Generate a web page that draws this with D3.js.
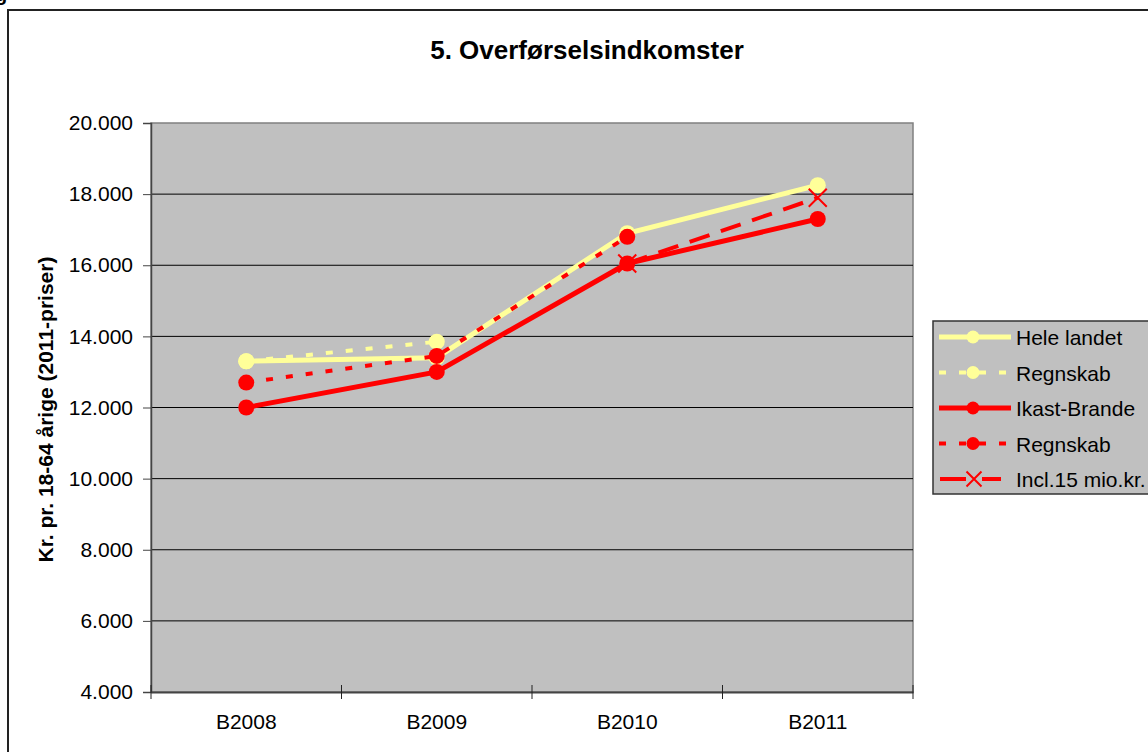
<!DOCTYPE html>
<html lang="da">
  <head>
    <meta charset="UTF-8" />
    <title>5. Overførselsindkomster</title>
    <script src="https://d3js.org/d3.v7.min.js"></script>
    <style>
      body {
        margin: 0;
        background: #fff;
        font-family: Arial, "Liberation Sans", sans-serif;
      }
      svg text {
        fill: #000;
      }
    </style>
  </head>
  <body>
    <svg width="1148" height="752"></svg>

    <script>
      // Data
      const categories = ["B2008", "B2009", "B2010", "B2011"];
      const heleLandet = [13300, 13400, 16900, 18250];
      const regnskabLand = [13300, 13850, null, null];
      const ikastBrande = [12000, 13000, 16050, 17300];
      const regnskabIkast = [12700, 13450, 16800, null];
      const incl15 = [null, null, 16050, 17900];
      const yTicks = [4000, 6000, 8000, 10000, 12000, 14000, 16000, 18000, 20000];

      const series = [
        { name: "Hele landet", values: heleLandet, color: "#ffff99", width: 5, dash: null, marker: "dot" },
        { name: "Regnskab", values: regnskabLand, color: "#ffff99", width: 4, dash: "7,13", marker: "dot" },
        { name: "Ikast-Brande", values: ikastBrande, color: "#ff0000", width: 5, dash: null, marker: "dot" },
        { name: "Regnskab", values: regnskabIkast, color: "#ff0000", width: 4, dash: "7,13", marker: "dot" },
        { name: "Incl.15 mio.kr.", values: incl15, color: "#ff0000", width: 4, dash: "21,12", marker: "x" },
      ];

      const svg = d3.select("svg");
      const plot = { left: 151, right: 913, top: 123, bottom: 692 };

      // Ydre ramme
      svg.append("rect")
        .attr("x", 8).attr("y", 10)
        .attr("width", 1160).attr("height", 760)
        .attr("fill", "#fff")
        .attr("stroke", "#222").attr("stroke-width", 2);

      // Afskåret tekst over rammen
      svg.append("text")
        .attr("x", -5).attr("y", 1)
        .attr("font-size", 20).attr("font-weight", "bold")
        .text("g");

      const x = d3.scaleBand().domain(categories).range([plot.left, plot.right]);
      const y = d3.scaleLinear().domain([4000, 20000]).range([plot.bottom, plot.top]);

      // Plotområde
      svg.append("rect")
        .attr("x", plot.left).attr("y", plot.top)
        .attr("width", plot.right - plot.left).attr("height", plot.bottom - plot.top)
        .attr("fill", "#c0c0c0")
        .attr("stroke", "#808080").attr("stroke-width", 1.5);

      // Gitterlinjer
      svg.append("g")
        .selectAll("line")
        .data(yTicks.slice(1, -1))
        .join("line")
        .attr("x1", plot.left).attr("x2", plot.right)
        .attr("y1", (d) => y(d)).attr("y2", (d) => y(d))
        .attr("stroke", "#000").attr("stroke-width", 1);

      // Y-akse
      const fmt = (d) => d3.format(",")(d).replace(/,/g, ".");
      const yAxis = svg.append("g")
        .attr("transform", `translate(${plot.left},0)`)
        .call(d3.axisLeft(y).tickValues(yTicks).tickFormat(fmt).tickSize(8).tickPadding(10));
      yAxis.select(".domain").attr("stroke", "#444").attr("stroke-width", 1.5);
      yAxis.selectAll(".tick line").attr("stroke", "#444");
      yAxis.selectAll(".tick text")
        .attr("font-size", 21).attr("font-family", "Arial, 'Liberation Sans', sans-serif")
        .attr("fill", "#000");

      // X-akse
      const xAxis = svg.append("g")
        .attr("transform", `translate(0,${plot.bottom})`)
        .call(d3.axisBottom(x).tickSize(0).tickPadding(22));
      xAxis.select(".domain").attr("stroke", "#444").attr("stroke-width", 2);
      xAxis.selectAll(".tick text")
        .attr("font-size", 21).attr("font-family", "Arial, 'Liberation Sans', sans-serif")
        .attr("fill", "#000");
      const bounds = categories.map((c) => x(c)).concat([x(categories[categories.length - 1]) + x.bandwidth()]);
      svg.append("g")
        .selectAll("line")
        .data(bounds)
        .join("line")
        .attr("x1", (d) => d).attr("x2", (d) => d)
        .attr("y1", plot.bottom - 7).attr("y2", plot.bottom + 7)
        .attr("stroke", "#222").attr("stroke-width", 1);

      // Titler
      svg.append("text")
        .attr("x", 587).attr("y", 59)
        .attr("text-anchor", "middle")
        .attr("font-size", 26).attr("font-weight", "bold")
        .text("5. Overførselsindkomster");

      svg.append("text")
        .attr("transform", `translate(53,${(plot.top + plot.bottom) / 2 + 2}) rotate(-90)`)
        .attr("text-anchor", "middle")
        .attr("font-size", 21).attr("font-weight", "bold")
        .text("Kr. pr. 18-64 årige (2011-priser)");

      // Serier
      const cx = (i) => x(categories[i]) + x.bandwidth() / 2;
      const line = d3.line()
        .defined((d) => d != null)
        .x((d, i) => cx(i))
        .y((d) => y(d));

      function drawMarker(g, s, px, py, r) {
        if (s.marker === "dot") {
          g.append("circle").attr("cx", px).attr("cy", py).attr("r", r).attr("fill", s.color);
        } else {
          g.append("path")
            .attr("d", `M${px - r},${py - r}L${px + r},${py + r}M${px - r},${py + r}L${px + r},${py - r}`)
            .attr("stroke", s.color).attr("stroke-width", 2).attr("fill", "none");
        }
      }

      const seriesG = svg.append("g");
      series.forEach((s) => {
        const g = seriesG.append("g");
        g.append("path")
          .attr("d", line(s.values))
          .attr("fill", "none")
          .attr("stroke", s.color)
          .attr("stroke-width", s.width)
          .attr("stroke-dasharray", s.dash);
        s.values.forEach((v, i) => {
          if (v != null) drawMarker(g, s, cx(i), y(v), s.marker === "dot" ? 8 : 9);
        });
      });

      // Forklaring
      const legend = svg.append("g").attr("transform", "translate(933,321)");
      legend.append("rect")
        .attr("width", 240).attr("height", 173)
        .attr("fill", "#c0c0c0")
        .attr("stroke", "#333").attr("stroke-width", 1.5);
      series.forEach((s, i) => {
        const ly = 16 + i * 35.5;
        const item = legend.append("g");
        if (s.marker === "x") {
          item.append("line").attr("x1", 7).attr("x2", 33).attr("y1", ly).attr("y2", ly)
            .attr("stroke", s.color).attr("stroke-width", s.width);
          item.append("line").attr("x1", 49).attr("x2", 68).attr("y1", ly).attr("y2", ly)
            .attr("stroke", s.color).attr("stroke-width", s.width);
        } else {
          item.append("line")
            .attr("x1", 6).attr("x2", 78)
            .attr("y1", ly).attr("y2", ly)
            .attr("stroke", s.color)
            .attr("stroke-width", s.width)
            .attr("stroke-dasharray", s.dash);
        }
        drawMarker(item, s, s.marker === "x" ? 41 : 40, ly, s.marker === "dot" ? 6.5 : 7.5);
        item.append("text")
          .attr("x", 83).attr("y", ly + 8)
          .attr("font-size", 21)
          .text(s.name);
      });
    </script>
  </body>
</html>
